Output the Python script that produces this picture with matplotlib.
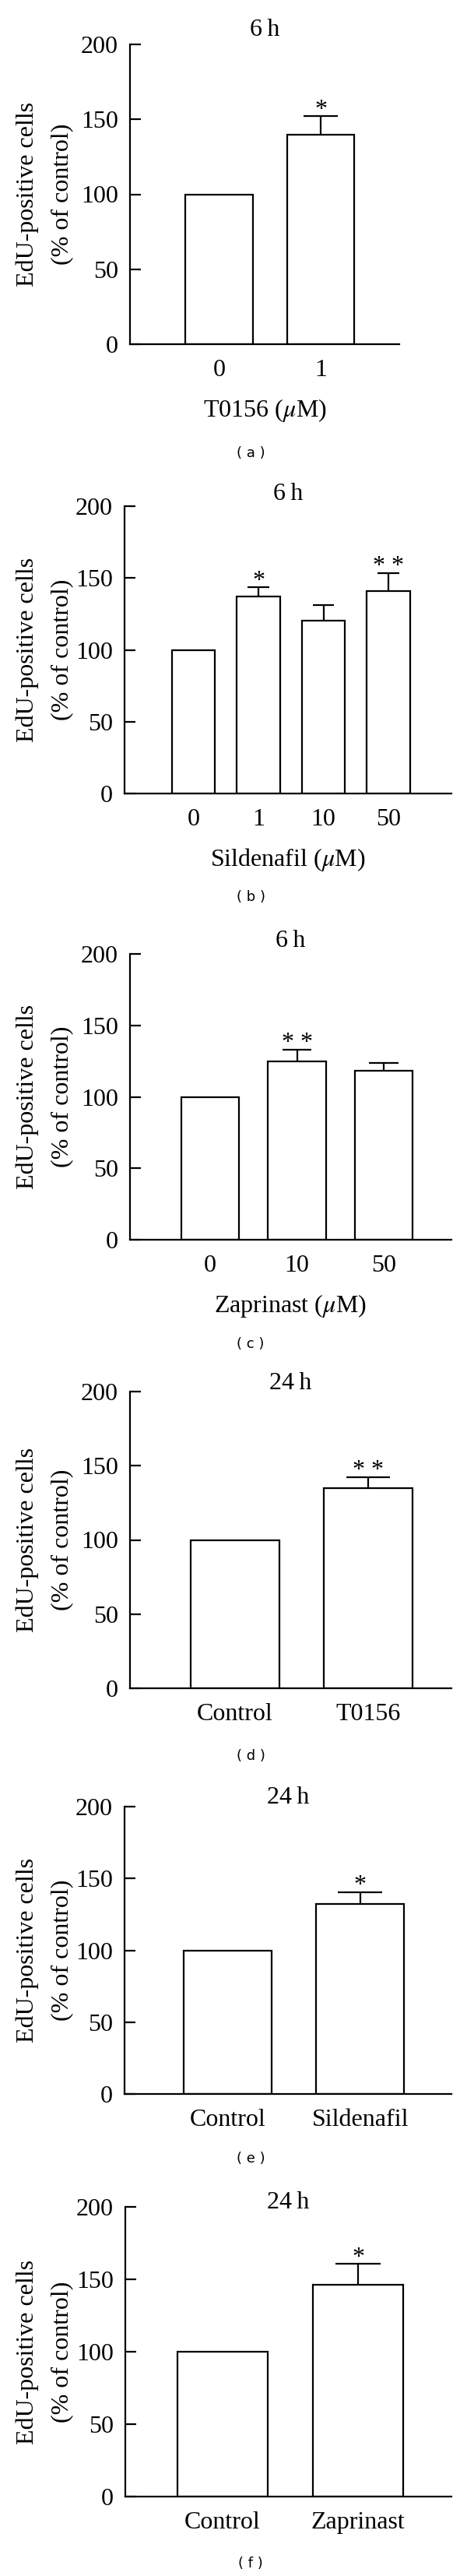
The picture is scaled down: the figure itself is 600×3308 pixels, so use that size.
import numpy as np
import matplotlib.pyplot as plt

plt.rcParams['font.family'] = ['Liberation Serif', 'DejaVu Serif']
plt.rcParams['mathtext.fontset'] = 'stix'
plt.rcParams['font.size'] = 23

W, H = 600, 3308

# data (% of control, mean and upper SEM)
a_labels = ['0', '1']
a_mean = [100, 140]
a_err = [0, 12]
a_stars = ['', '*']

b_labels = ['0', '1', '10', '50']
b_mean = [100, 137, 120.5, 141]
b_err = [0, 6.5, 10.5, 12.5]
b_stars = ['', '*', '', '* *']

c_labels = ['0', '10', '50']
c_mean = [100, 125, 118]
c_err = [0, 8, 5.5]
c_stars = ['', '* *', '']

d_labels = ['Control', 'T0156']
d_mean = [100, 135]
d_err = [0, 7.5]
d_stars = ['', '* *']

e_labels = ['Control', 'Sildenafil']
e_mean = [100, 132.5]
e_err = [0, 8]
e_stars = ['', '*']

f_labels = ['Control', 'Zaprinast']
f_mean = [100, 146.5]
f_err = [0, 14]
f_stars = ['', '*']

titles = ['6\u2009h', '6\u2009h', '6\u2009h', '24\u2009h', '24\u2009h', '24\u2009h']
xlabels = [r'T0156 ($\mu$M)', r'Sildenafil ($\mu$M)', r'Zaprinast ($\mu$M)', None, None, None]
tags = ['( a )', '( b )', '( c )', '( d )', '( e )', '( f )']
ylabel = 'EdU-positive cells\n(% of control)'

panels = [
    (a_labels, a_mean, a_err, a_stars),
    (b_labels, b_mean, b_err, b_stars),
    (c_labels, c_mean, c_err, c_stars),
    (d_labels, d_mean, d_err, d_stars),
    (e_labels, e_mean, e_err, e_stars),
    (f_labels, f_mean, f_err, f_stars),
]

# layout in pixels: left, right, top (y=200), bottom (y=0), xlim, title offset, tag y
boxes = [
    (167, 513, 57, 442, (-0.877, 1.774), 18, 582),
    (160, 580, 650, 1019, (-1.06, 3.97), 15, 1152),
    (167, 580, 1225, 1592, (-0.924, 2.78), 17, 1726),
    (167, 580, 1787, 2168, (-0.79, 1.626), 10, 2255),
    (160, 580, 2320, 2689, (-0.78, 1.69), 12, 2772),
    (161, 580, 2834, 3206, (-0.718, 1.69), 6, 3292),
]

fig = plt.figure(figsize=(W / 100, H / 100), dpi=100)
bw = 0.665
lw = 1.6

for i, ((labels, mean, err, stars), box) in enumerate(zip(panels, boxes)):
    l, r, t, b, xl, toff, tagy = box
    ax = fig.add_axes([l / W, 1 - b / H, (r - l) / W, (b - t) / H])
    x = np.arange(len(labels))
    mean = np.array(mean, dtype=float)
    err = np.array(err, dtype=float)
    ax.bar(x, mean, width=bw, color='white', edgecolor='black', linewidth=lw, zorder=2)
    m = err > 0
    ax.vlines(x[m], mean[m], mean[m] + err[m], color='black', linewidth=lw, zorder=1)
    ax.hlines(mean[m] + err[m], x[m] - bw / 4, x[m] + bw / 4, color='black', linewidth=lw)
    for xi, yi, s in zip(x, mean + err, stars):
        if s:
            ax.annotate(s, (xi, yi), xytext=(0, 0.5), textcoords='offset points',
                        ha='center', va='baseline')
    ax.set_ylim(0, 200)
    ax.set_xlim(*xl)
    ax.set_yticks([0, 50, 100, 150, 200])
    ax.set_xticks(x)
    ax.set_xticklabels(labels)
    ax.tick_params(axis='y', direction='in', length=10, width=lw, pad=11)
    ax.tick_params(axis='x', length=0, pad=14)
    for sp in ['top', 'right']:
        ax.spines[sp].set_visible(False)
    for sp in ['left', 'bottom']:
        ax.spines[sp].set_linewidth(lw)
    if xlabels[i]:
        ax.set_xlabel(xlabels[i], labelpad=14)
    ax.text(0.5, 1 + toff / (b - t), titles[i], transform=ax.transAxes,
            ha='center', va='center')
    fig.text(57 / W, 1 - (t + b) / 2 / H, ylabel, rotation=90, ha='center',
             va='center', linespacing=1.7, multialignment='center')
    fig.text(322 / W, 1 - tagy / H, tags[i], family='DejaVu Sans', fontsize=13,
             ha='center', va='center')

fig.savefig('out.png', dpi=100)
